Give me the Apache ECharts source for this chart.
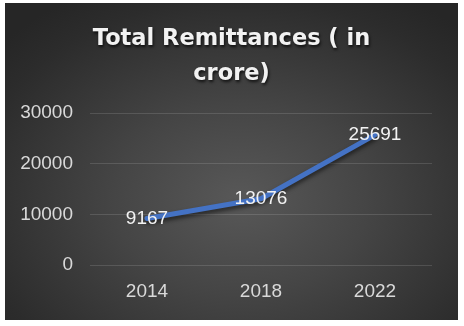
<!DOCTYPE html>
<html>
<head>
<meta charset="utf-8">
<script src="https://cdn.jsdelivr.net/npm/echarts@6/dist/echarts.min.js"></script>
<style>
html,body{margin:0;padding:0;background:#ffffff;width:464px;height:326px;overflow:hidden;}
#wrap{position:absolute;left:5px;top:3px;width:453px;height:317px;
background:radial-gradient(ellipse 70% 75% at 52% 62%, #585858 0%, #454545 40%, #2c2c2c 85%, #262626 100%);}
#chart{width:453px;height:317px;}
</style>
</head>
<body>
<div id="wrap"><div id="chart"></div></div>
<script>
const titleText = "Total Remittances ( in\ncrore)";
const categories = ["2014", "2018", "2022"];
const remittances = [9167, 13076, 25691];
const yTicks = [0, 10000, 20000, 30000];

const chart = echarts.init(document.getElementById('chart'), null, {renderer: 'canvas'});
chart.setOption({
  backgroundColor: 'transparent',
  animation: false,
  title: {
    text: titleText,
    left: 'center',
    top: 14,
    textStyle: {
      fontFamily: 'DejaVu Sans',
      fontWeight: 'bold',
      fontSize: 22.5,
      lineHeight: 35,
      color: '#f2f2f2',
      textShadowColor: 'rgba(0,0,0,0.75)',
      textShadowBlur: 3,
      textShadowOffsetX: 1,
      textShadowOffsetY: 2
    }
  },
  grid: {left: 85, right: 26, top: 110, bottom: 55},
  xAxis: {
    type: 'category',
    data: categories,
    boundaryGap: true,
    axisLine: {show: false},
    axisTick: {show: false},
    axisLabel: {color: '#d9d9d9', fontFamily: 'Liberation Sans', fontSize: 19, margin: 17}
  },
  yAxis: {
    type: 'value',
    min: yTicks[0],
    max: yTicks[yTicks.length - 1],
    interval: yTicks[1] - yTicks[0],
    axisLine: {show: false},
    axisTick: {show: false},
    axisLabel: {color: '#d9d9d9', fontFamily: 'Liberation Sans', fontSize: 19, margin: 17,
      formatter: function (v) { return String(v); }},
    splitLine: {lineStyle: {color: 'rgba(255,255,255,0.13)', width: 1}}
  },
  series: [{
    type: 'line',
    data: remittances,
    showSymbol: true,
    showAllSymbol: true,
    symbol: 'circle',
    symbolSize: 2,
    itemStyle: {color: 'rgba(0,0,0,0)', borderWidth: 0},
    lineStyle: {
      color: '#4472C4',
      width: 5,
      cap: 'round',
      shadowColor: 'rgba(0,0,0,0.55)',
      shadowBlur: 4,
      shadowOffsetY: 3
    },
    label: {
      show: true,
      position: 'inside',
      color: '#f2f2f2',
      fontFamily: 'Liberation Sans',
      fontSize: 19,
      formatter: function (p) { return String(p.value); }
    },
    z: 3
  }]
});
</script>
</body>
</html>
